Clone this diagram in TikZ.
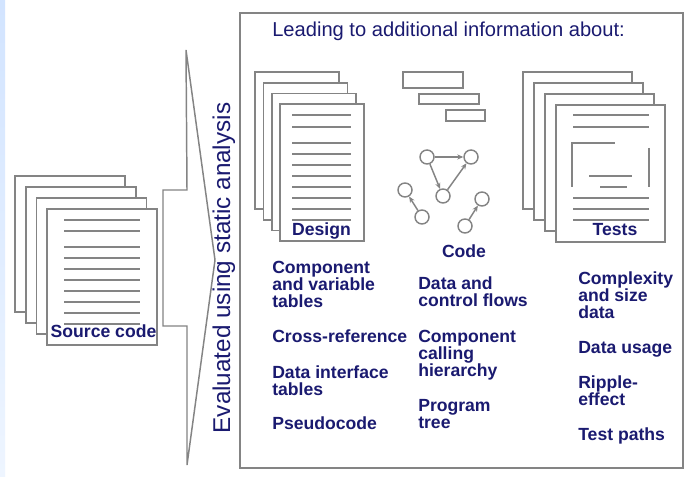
\documentclass[tikz,border=0pt]{standalone}
\usepackage{fontspec}
\setmainfont{Liberation Sans}
\usetikzlibrary{arrows.meta}
\definecolor{ink}{RGB}{26,26,112}
\definecolor{rule}{RGB}{132,132,132}
\definecolor{stripA}{RGB}{210,228,255}
\definecolor{stripB}{RGB}{238,245,255}
% baseline-to-baseline distance of the item lists, in picture units
\newcommand\itemlead{17.07}
\begin{document}
\begin{tikzpicture}[x=0.75pt,y=-0.75pt,
  docpage/.style={draw=rule, fill=white, line width=1.3pt},
  bodyrule/.style={draw=rule, line width=1.5pt},
  outline/.style={draw=rule, line width=1.1pt},
  itemtext/.style={font=\fontsize{13.2}{12.8}\selectfont\bfseries, text=ink,
    inner sep=0pt, align=left, anchor=base west},
  doctitle/.style={font=\fontsize{13.2}{12.8}\selectfont\bfseries, text=ink,
    inner sep=0pt, anchor=base},
  gnode/.style={circle, draw=rule, line width=1.1pt, fill=white,
    minimum size=10.5pt, inner sep=0pt},
  garrow/.style={draw=rule, line width=1.1pt,
    -{Stealth[length=4.5pt,width=3.8pt]}},
]
\useasboundingbox (0,0) rectangle (696,477);
\fill[white] (0,0) rectangle (696,477);
\shade[top color=stripA, bottom color=stripB] (0,0) rectangle (5,477);

% ---- source code pages ----
\foreach \i in {0,...,3}
  \draw[docpage] ({15+10.7*\i},{176+11*\i}) rectangle +(110,136);
\foreach \y in {220,231}
  \draw[bodyrule] (64,\y) -- (140,\y);
\foreach \k in {0,...,7}
  \draw[bodyrule] (64,{247+11*\k}) -- (140,{247+11*\k});
\node[doctitle] (srclabel) at (103.5,338) {Source code};

% ---- arrow shape with notch ----
\draw[outline, line join=miter] (186,50) -- (215,260) -- (187,465) -- (187,326)
  -- (163,326) -- (163,190) -- (187,190) -- cycle;
\node[rotate=90, anchor=base, text=ink, inner sep=0pt,
  font=\fontsize{18.2}{20}\selectfont] (evaltext) at (230,268)
  {Evaluated using static analysis};

% ---- results frame ----
\draw[outline] (240,13) rectangle (683,468);
\node[anchor=base west, text=ink, inner sep=0pt,
  font=\fontsize{15.1}{17}\selectfont] (heading) at (272,37)
  {Leading to additional information about:};

% ---- design pages ----
\foreach \i in {0,...,3}
  \draw[docpage] ({255+8.4*\i},{72+10.7*\i}) rectangle +(84,137);
\foreach \y in {115,127}
  \draw[bodyrule] (292,\y) -- (351,\y);
\foreach \k in {0,...,7}
  \draw[bodyrule] (292,{143+11*\k}) -- (351,{143+11*\k});
\node[doctitle] (designlabel) at (321.5,236) {Design};

% ---- code: bars and call graph ----
\draw[outline, line width=1.4pt] (403,72) rectangle (463,88);
\draw[outline, line width=1.4pt] (419,94) rectangle (479,104);
\draw[outline, line width=1.4pt] (446,110) rectangle (485,121);
\node[gnode] (ga) at (427,157) {};
\node[gnode] (gb) at (471,157) {};
\node[gnode] (gc) at (443,196) {};
\node[gnode] (gd) at (405,190) {};
\node[gnode] (ge) at (422,217) {};
\node[gnode] (gf) at (482,199) {};
\node[gnode] (gg) at (465,226) {};
\draw[garrow] (ga) -- (gb);
\draw[garrow] (ga) -- (gc);
\draw[garrow] (gc) -- (gb);
\draw[garrow] (ge) -- (gd);
\draw[garrow] (gg) -- (gf);
\node[doctitle] (codelabel) at (464,258) {Code};

% ---- test pages ----
\foreach \i in {0,...,3}
  \draw[docpage] ({523+11*\i},{72+11*\i}) rectangle +(109,137);
\foreach \y in {115,127,198,209,220}
  \draw[bodyrule] (573,\y) -- (649,\y);
\draw[bodyrule] (572,187) -- (572,143) -- (615,143);
\draw[bodyrule] (649,148) -- (649,187);
\draw[bodyrule] (589,176) -- (632,176);
\draw[bodyrule] (600,187) -- (627,187);
\node[doctitle] (testlabel) at (615,236) {Tests};

% ---- item lists (anchor = baseline of the last line) ----
\node[itemtext] (d1) at (272,{273+2*\itemlead}) {Component\\and variable\\tables};
\node[itemtext] (d2) at (272,343) {Cross-reference};
\node[itemtext] (d3) at (272,{378+\itemlead}) {Data interface\\tables};
\node[itemtext] (d4) at (272,429) {Pseudocode};

\node[itemtext] (c1) at (418,{289+\itemlead}) {Data and\\control flows};
\node[itemtext] (c2) at (418,{342+2*\itemlead}) {Component\\calling\\hierarchy};
\node[itemtext] (c3) at (418,{411+\itemlead}) {Program\\tree};

\node[itemtext] (t1) at (578,{284+2*\itemlead}) {Complexity\\and size\\data};
\node[itemtext] (t2) at (578,353) {Data usage};
\node[itemtext] (t3) at (578,{388+\itemlead}) {Ripple-\\effect};
\node[itemtext] (t4) at (578,440) {Test paths};
\end{tikzpicture}
\end{document}
